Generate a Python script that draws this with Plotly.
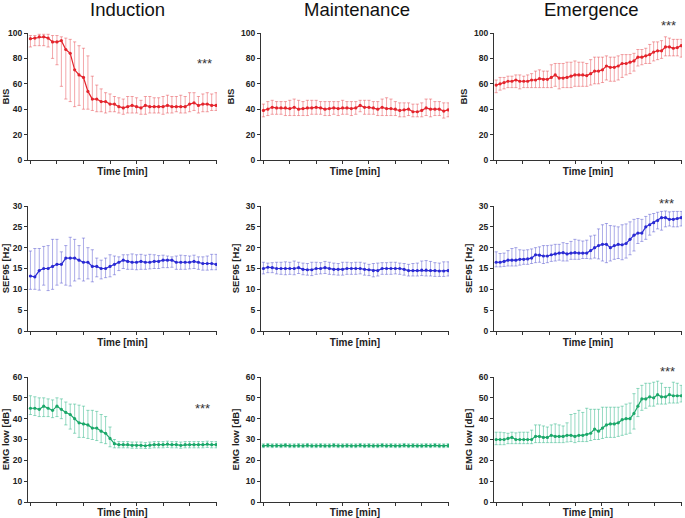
import numpy as np
import plotly.graph_objects as go

# ---------------- DATA ----------------
phases = ["Induction", "Maintenance", "Emergence"]
ytitles = ["BIS", "SEF95 [Hz]", "EMG low [dB]"]
xtitle = "Time [min]"

# Induction
ind_bis = [95.5, 96, 97, 97, 96, 93, 93, 94, 87, 84, 71, 67, 65, 54, 48, 48, 46, 46, 44, 44, 42, 41, 42, 43, 42, 41, 43, 42, 42, 42, 42, 43, 42, 42, 42, 42, 44, 45, 43, 44, 44, 43, 43]
ind_bis_hi = [98, 98, 99, 99, 99, 98, 98, 97, 96, 95, 93, 90, 88, 82, 66, 59, 56, 53, 52, 50, 49, 48, 50, 50, 49, 47, 50, 50, 49, 49, 50, 51, 50, 50, 51, 50, 53, 53, 50, 52, 53, 52, 53]
ind_bis_lo = [89, 90, 90, 90, 89, 80, 75, 58, 48, 46, 42, 43, 40, 40, 39, 38, 38, 37, 38, 38, 37, 36, 37, 37, 37, 36, 36, 37, 37, 37, 36, 37, 37, 38, 37, 37, 38, 39, 37, 38, 38, 39, 39]

ind_sef = [13.2, 13, 14.5, 15, 15, 15.5, 16, 16, 17.5, 17.5, 17.5, 17, 16.5, 16.5, 15.5, 15.5, 15, 15, 15.5, 16, 16.5, 17, 16.7, 16.5, 16.5, 16.7, 16.5, 16.5, 16.7, 16.7, 17, 17, 17, 16.5, 16.5, 16.5, 16.5, 16.7, 16.5, 16.2, 16.2, 16.2, 16]
ind_sef_hi = [19.2, 19.8, 19.8, 20.3, 20.5, 22, 22, 19, 20.5, 22.5, 22, 20.5, 22.3, 20, 19.5, 17.5, 17, 17.5, 18.3, 18, 17.8, 18.3, 18.3, 18.5, 18.3, 18.4, 18.2, 18.4, 18.3, 18.1, 18.2, 18, 17.8, 18, 18.2, 18.1, 18, 18.2, 17.8, 17.8, 18, 18.4, 18.4]
ind_sef_lo = [10, 10, 9.8, 11, 9.7, 10, 11, 11.5, 11, 10.8, 12, 12.5, 12, 12.5, 11.8, 13, 12.5, 12.8, 13, 13.5, 14.5, 15, 14.8, 14.8, 14.7, 14.8, 14.8, 14.9, 15, 15, 15.2, 15.2, 15.3, 14.8, 14.8, 14.8, 14.9, 15, 14.8, 14.6, 14.6, 14.7, 14.7]

ind_emg = [45, 45, 44.5, 46, 45, 44, 46, 44.5, 43, 42, 40, 38, 37.5, 37, 35.5, 35.5, 34, 33, 30.5, 28, 27.5, 27.5, 27.5, 27.2, 27.2, 27.2, 27, 27.3, 27.5, 27.5, 27.5, 27.8, 27.5, 27.5, 27.2, 27.5, 27.5, 27.5, 27.5, 27.5, 27.8, 27.5, 27.5]
ind_emg_hi = [51, 50.5, 50, 50, 49.5, 49, 50, 49.5, 48, 47, 47, 46.5, 46, 44, 44, 43.5, 42, 41, 36, 30, 29, 29, 29, 28.8, 28.8, 28.8, 28.5, 28.8, 29, 29, 29, 29.2, 29, 29, 28.8, 29, 29, 29, 29, 29, 29.2, 29, 29]
ind_emg_lo = [42, 41.5, 41, 41, 41, 40.5, 41, 40, 37, 35, 33, 31, 31, 30.5, 30, 29.5, 28.5, 28, 26.5, 26, 26, 26, 26, 25.8, 25.8, 25.8, 25.7, 25.8, 26, 26, 26, 26.2, 26, 26, 25.8, 26, 26, 26, 26, 26, 26.2, 26, 26]

# Maintenance
mai_bis = [39, 40, 41.5, 41, 41, 41, 40.5, 41.5, 40, 40.5, 41, 41, 41.5, 41, 40, 40.5, 41, 40.5, 41, 41, 40.5, 41, 43, 41.5, 41.5, 41, 40, 41.5, 40.5, 40.5, 40, 39, 39.5, 40, 38, 38, 39, 41, 40, 40, 40, 38.5, 39.5]
mai_bis_hi = [44, 46, 47, 46, 46, 46, 47, 48, 47, 46, 47, 47, 47, 46, 46, 46, 46, 46, 47, 46, 46, 46, 47, 47, 47, 46, 46, 48, 49, 48, 46, 45, 45, 45, 44, 44, 45, 48, 48, 46, 46, 45, 45]
mai_bis_lo = [34, 35, 36, 36, 36, 35, 35, 35, 35, 35, 35, 36, 36, 36, 35, 35, 36, 35, 36, 36, 35, 36, 38, 36, 36, 36, 35, 35, 35, 35, 35, 34, 34, 35, 34, 34, 34, 35, 34, 35, 35, 33, 34]

mai_sef = [15, 15.3, 15.2, 15, 15, 15, 15, 15, 15.2, 14.8, 14.7, 14.7, 15, 15, 15.2, 15, 14.8, 14.8, 14.8, 15, 15, 15, 15, 14.8, 14.7, 14.5, 14.5, 15, 15, 15, 15, 15, 14.8, 14.5, 14.5, 14.5, 14.6, 14.6, 14.5, 14.5, 14.4, 14.4, 14.5]
mai_sef_hi = [16.5, 16.3, 16.4, 16.5, 16.5, 16.6, 16.5, 16.8, 16.5, 16.3, 16.2, 16.5, 16.5, 16.4, 16.7, 16.5, 16.3, 16.2, 16.5, 16.5, 16.4, 16.5, 16.5, 16.3, 16, 16.2, 16.3, 16.4, 16.4, 16.5, 16.5, 16.3, 16.2, 16, 16.2, 16.3, 16.8, 16.9, 16.7, 16.4, 16.3, 16.6, 16.6]
mai_sef_lo = [13.7, 14, 14, 13.7, 13.6, 13.5, 13.6, 13.5, 13.8, 13.5, 13.4, 13.3, 13.6, 13.7, 13.8, 13.6, 13.5, 13.4, 13.4, 13.6, 13.6, 13.6, 13.7, 13.4, 13.3, 13, 13.2, 13.6, 13.6, 13.6, 13.7, 13.6, 13.4, 13.2, 13.2, 13.2, 13.3, 13.2, 13.2, 13.1, 13.1, 13.1, 13.2]

mai_emg = [27, 27.2, 27, 27.1, 27, 27.2, 27, 27, 27.1, 27, 27.2, 27, 27, 27.1, 27, 27, 27.2, 27, 27, 27.1, 27, 27, 27.2, 27, 27.1, 27, 27, 27.2, 27, 27.1, 27, 27, 27.2, 27, 27.1, 27, 27, 27.1, 27, 27.2, 27, 27, 27.1]
mai_emg_hi = [27.9, 28.1, 27.9, 28, 27.9, 28.1, 27.9, 27.9, 28, 27.9, 28.1, 27.9, 27.9, 28, 27.9, 27.9, 28.1, 27.9, 27.9, 28, 27.9, 27.9, 28.1, 27.9, 28, 27.9, 27.9, 28.1, 27.9, 28, 27.9, 27.9, 28.1, 27.9, 28, 27.9, 27.9, 28, 27.9, 28.1, 27.9, 27.9, 28]
mai_emg_lo = [26.1, 26.3, 26.1, 26.2, 26.1, 26.3, 26.1, 26.1, 26.2, 26.1, 26.3, 26.1, 26.1, 26.2, 26.1, 26.1, 26.3, 26.1, 26.1, 26.2, 26.1, 26.1, 26.3, 26.1, 26.2, 26.1, 26.1, 26.3, 26.1, 26.2, 26.1, 26.1, 26.3, 26.1, 26.2, 26.1, 26.1, 26.2, 26.1, 26.3, 26.1, 26.1, 26.2]

# Emergence
eme_bis = [59, 60, 61, 62, 62, 63, 62, 62, 62, 63, 63, 64, 63.5, 63.5, 65, 67, 64.5, 64.5, 65, 66, 67, 67, 67, 66.5, 68, 70, 70, 71, 74, 73, 73, 74, 76, 76, 77, 78, 81, 81, 82, 83, 85, 86, 86, 89, 89, 88, 88.5, 90]
eme_bis_hi = [63, 65, 65, 66, 66, 67, 67, 66, 67, 68, 70, 71, 70, 70, 75, 76, 76, 76, 77, 77, 78, 77, 77, 76, 79, 81, 81, 81, 82, 81, 81, 82, 83, 83, 83, 84, 87, 87, 88, 91, 93, 93, 94, 97, 96, 95, 95, 95]
eme_bis_lo = [53, 55, 56, 57, 57, 57, 56, 57, 57, 57, 57, 57, 57, 57, 57, 58, 56, 57, 57, 57, 58, 58, 58, 58, 59, 60, 60, 61, 63, 62, 62, 63, 65, 67, 68, 70, 74, 75, 76, 76, 78, 79, 80, 82, 82, 82, 82, 81]

eme_sef = [16.5, 16.5, 16.7, 17, 17, 17, 17.2, 17.2, 17.3, 17.5, 18.3, 18.2, 18, 18, 18.3, 18.5, 18.7, 18.8, 18.5, 18.7, 18.8, 18.7, 18.7, 18.7, 19.3, 20, 20.5, 20.8, 20.8, 20, 20.5, 20.8, 20.7, 21, 22, 23, 23.5, 23.5, 25, 25.5, 26, 26.5, 27.2, 27.2, 26.8, 26.8, 27, 27.2]
eme_sef_hi = [19, 18.6, 18.7, 19.3, 19.8, 20, 19.5, 19.4, 19.5, 19.7, 20, 20.2, 20.5, 20.5, 20.6, 20.8, 20.8, 21.2, 21, 21.5, 22, 21.8, 21.6, 21.8, 22.8, 23, 24.5, 25.5, 25.8, 25.3, 25.2, 25, 25.5, 25.7, 26.2, 26.8, 27, 26.8, 27.5, 28, 28.2, 28.5, 28.7, 28.8, 28.6, 28.7, 28.7, 28.7]
eme_sef_lo = [15.4, 15.4, 15.5, 15.6, 15.6, 15.6, 15.8, 16, 16, 16.2, 16.4, 16.5, 16.2, 16.4, 16.7, 16.8, 17, 16.8, 16.8, 17.2, 17.2, 17.2, 17.4, 17.4, 17.3, 17.5, 17.3, 16.8, 16.4, 16.8, 17.2, 17.4, 17.1, 17.5, 18.3, 19.2, 21, 21.5, 22, 23, 23.8, 24.5, 24.2, 25, 25.2, 25, 25, 25.2]

eme_emg = [30, 30, 30, 30.5, 31, 30, 30, 30, 30, 30, 31.5, 31.5, 31, 31, 32, 31.5, 31.5, 31.5, 32, 32, 31.5, 32, 32, 32.5, 33, 35, 34, 35.5, 37, 37.5, 37.5, 38, 39.5, 40, 40, 42.5, 46, 49.5, 49.5, 50.5, 50, 51.5, 50.5, 50.5, 51.5, 51, 51, 51]
eme_emg_hi = [33.5, 33.5, 33.3, 33, 33.5, 33.2, 33.5, 33.5, 33.5, 34.5, 37, 37, 36.5, 36, 37, 37.5, 37, 36.5, 38, 42, 42.5, 44, 43, 45, 44.5, 44.5, 44.5, 45.5, 45.5, 45.5, 45.5, 45.5, 46, 47, 47.5, 52, 54.5, 56, 57, 57, 57.5, 58, 57, 55, 55, 57.5, 57, 56]
eme_emg_lo = [27.5, 27.5, 27.5, 28, 28, 28, 28, 28, 28, 28, 28.5, 28.5, 28.5, 28.5, 28.5, 28.5, 28.5, 28.5, 28.8, 29, 28.5, 29, 29, 29, 29.5, 30, 30, 30.5, 31, 31, 31, 31.5, 32, 32.5, 33, 35, 41, 44, 45, 46, 46, 47, 47, 47, 47.5, 47.5, 47.5, 48]

yranges = [100, 30, 60]
ydticks = [20, 5, 10]
n_xticks = 8

# significance markers: (row, col)
stars = [(0, 0), (2, 0), (0, 2), (1, 2), (2, 2)]

# ---------------- STYLE ----------------
W, H = 685, 518
cols_px = [(28, 217), (261, 449), (494, 682)]
rows_px = [(33, 160), (206, 331), (377, 502)]
title_centers_px = [128, 357, 591]
line_colors = ["#e4242c", "#2a2ad4", "#1ca86a"]
err_colors = ["rgba(228,60,66,0.5)", "rgba(70,70,205,0.5)", "rgba(40,180,130,0.55)"]
FONT = "Liberation Sans, Arial, sans-serif"

data = {
    (0, 0): (ind_bis, ind_bis_hi, ind_bis_lo),
    (1, 0): (ind_sef, ind_sef_hi, ind_sef_lo),
    (2, 0): (ind_emg, ind_emg_hi, ind_emg_lo),
    (0, 1): (mai_bis, mai_bis_hi, mai_bis_lo),
    (1, 1): (mai_sef, mai_sef_hi, mai_sef_lo),
    (2, 1): (mai_emg, mai_emg_hi, mai_emg_lo),
    (0, 2): (eme_bis, eme_bis_hi, eme_bis_lo),
    (1, 2): (eme_sef, eme_sef_hi, eme_sef_lo),
    (2, 2): (eme_emg, eme_emg_hi, eme_emg_lo),
}

fig = go.Figure()
layout = {}
k = 0
for r in range(3):
    for c in range(3):
        k += 1
        xa = "x" if k == 1 else f"x{k}"
        ya = "y" if k == 1 else f"y{k}"
        mean, hi, lo = (np.array(a, dtype=float) for a in data[(r, c)])
        n = len(mean)
        x = np.arange(n)
        fig.add_trace(go.Scatter(
            x=x, y=mean, mode="lines+markers", xaxis=xa, yaxis=ya,
            line=dict(color=line_colors[r], width=1.2),
            marker=dict(size=3.2, color=line_colors[r]),
            error_y=dict(type="data", symmetric=False, array=hi - mean,
                         arrayminus=mean - lo, color=err_colors[r],
                         thickness=0.9, width=1.6),
            showlegend=False, hoverinfo="skip"))
        x0, x1 = cols_px[c]
        y0, y1 = rows_px[r]
        layout["xaxis" if k == 1 else f"xaxis{k}"] = dict(
            domain=[x0 / W, x1 / W], anchor=ya,
            range=[-0.55, n - 1 + 0.2],
            tickvals=list(np.linspace(0, n - 1, n_xticks)),
            ticks="outside", ticklen=3, tickwidth=1, tickcolor="#333",
            showticklabels=False, showline=True, linecolor="#333", linewidth=1,
            showgrid=False, zeroline=False,
            title=dict(text="<b>%s</b>" % xtitle, standoff=4,
                       font=dict(family=FONT, size=10, color="#222")))
        layout["yaxis" if k == 1 else f"yaxis{k}"] = dict(
            domain=[1 - y1 / H, 1 - y0 / H], anchor=xa,
            range=[0, yranges[r]], dtick=ydticks[r],
            ticks="outside", ticklen=3, tickwidth=1, tickcolor="#333",
            tickfont=dict(family=FONT, size=8.5, color="#222", weight="bold"),
            showline=True, linecolor="#333", linewidth=1,
            showgrid=False, zeroline=False,
            title=dict(text="<b>%s</b>" % ytitles[r], standoff=4,
                       font=dict(family=FONT, size=9.5, color="#222")))

annotations = []
for c in range(3):
    annotations.append(dict(
        text=phases[c], x=title_centers_px[c] / W, y=1 - 10 / H,
        xref="paper", yref="paper", showarrow=False, xanchor="center", yanchor="middle",
        font=dict(family=FONT, size=18.5, color="#111")))

star_pos_px = {(0, 0): (204, 64), (2, 0): (202, 408), (0, 2): (668, 25),
               (1, 2): (666, 203), (2, 2): (667, 371)}
for rc in stars:
    px, py = star_pos_px[rc]
    annotations.append(dict(
        text="***", x=px / W, y=1 - py / H, xref="paper", yref="paper",
        showarrow=False, xanchor="center", yanchor="middle",
        font=dict(family=FONT, size=13, color="#333")))

fig.update_layout(
    width=W, height=H, margin=dict(l=0, r=0, t=0, b=0, autoexpand=False),
    paper_bgcolor="white", plot_bgcolor="white",
    annotations=annotations, **layout)

fig.write_html("out.html", config={"displayModeBar": False},
               post_script="document.body.style.margin='0';document.body.style.overflow='hidden';")
